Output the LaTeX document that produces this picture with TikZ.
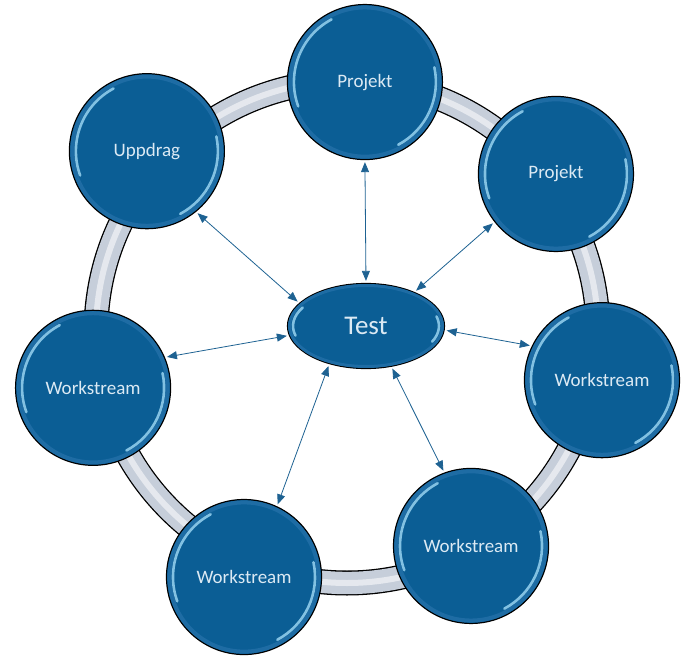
\documentclass[tikz,border=0pt]{standalone}
\usepackage{fontspec}
\setmainfont{Carlito}
\usetikzlibrary{
    positioning,           % Relative positioning
    shapes.geometric,      % Ellipse
    arrows.meta            % Modern arrow tips
}
\definecolor{bubbleblue}{RGB}{11,94,149}
\definecolor{rimblue}{RGB}{30,108,164}
\definecolor{glintblue}{RGB}{160,218,246}
\definecolor{bubbletext}{RGB}{220,234,244}
\definecolor{ringgray}{RGB}{198,206,218}
\definecolor{linkblue}{RGB}{30,98,146}
\tikzset{
    bubble/.style={circle, draw=black, line width=1.2pt, fill=bubbleblue,
        text=bubbletext, minimum size=155pt, inner sep=0pt,
        font=\fontsize{19}{19}\selectfont},
    hub/.style={ellipse, draw=black, line width=1.2pt, fill=bubbleblue,
        text=bubbletext, minimum width=157pt, minimum height=85pt, inner sep=0pt,
        font=\fontsize{27}{27}\selectfont},
    rim/.style={draw=rimblue, line width=4pt},
    glint/.style={draw=glintblue, line width=2.6pt, line cap=round, opacity=0.8},
    link/.style={linkblue, line width=0.8pt,
        {Triangle[length=10pt,width=8pt]}-{Triangle[length=10pt,width=8pt]},
        shorten >=2pt, shorten <=2pt}
}

\begin{document}
\begin{tikzpicture}[x=1pt,y=1pt]
    \useasboundingbox (-347,-326) rectangle (335,332);
    % ring behind the bubbles
    \draw[line width=25pt, black] (0,0) circle(251);
    \draw[line width=22.4pt, ringgray] (0,0) circle(251);
    \draw[line width=6pt, white, opacity=0.55] (0,0) circle(251);
    % bubbles
    \node[bubble] (p1) at (85.9:250.6) {};
    \node[bubble] (p2) at (37.1:262) {};
    \node[bubble] (w1) at (-10.7:259.5) {};
    \node[bubble] (w2) at (-59.9:247.3) {};
    \node[bubble] (w3) at (247.2:265.8) {};
    \node[bubble] (w4) at (192.4:260) {};
    \node[bubble] (up) at (137.9:269.7) {};
    \node[hub] (test) at (19,6) {};
    % rim and glints
    \foreach \n in {p1,p2,w1,w2,w3,w4,up} {
        \draw[rim] (\n.center) circle(74.6);
        \draw[glint] ([shift={(118:71)}]\n.center) arc[start angle=118, end angle=200, radius=71];
        \draw[glint] ([shift={(-62:71)}]\n.center) arc[start angle=-62, end angle=12, radius=71];
    }
    \draw[rim, line width=3pt] (test.center) ellipse[x radius=76.5, y radius=40.5];
    \draw[glint] ([shift={(150:73 and 37)}]test.center) arc[start angle=150, end angle=195, x radius=73, y radius=37];
    \draw[glint] ([shift={(-25:73 and 37)}]test.center) arc[start angle=-25, end angle=15, x radius=73, y radius=37];
    % labels
    \node[text=bubbletext, font=\fontsize{19}{19}\selectfont] at (p1) {Projekt};
    \node[text=bubbletext, font=\fontsize{19}{19}\selectfont] at (p2) {Projekt};
    \node[text=bubbletext, font=\fontsize{19}{19}\selectfont] at (w1) {Workstream};
    \node[text=bubbletext, font=\fontsize{19}{19}\selectfont] at (w2) {Workstream};
    \node[text=bubbletext, font=\fontsize{19}{19}\selectfont] at (w3) {Workstream};
    \node[text=bubbletext, font=\fontsize{19}{19}\selectfont] at (w4) {Workstream};
    \node[text=bubbletext, font=\fontsize{19}{19}\selectfont] at (up) {Uppdrag};
    \node[text=bubbletext, font=\fontsize{27}{27}\selectfont] at (test) {Test};
    % links
    \draw[link] (test.90) -- (p1.270);
    \draw[link] (test.35) -- (p2.218);
    \draw[link] (test.357) -- (w1.154);
    \draw[link] (test.302) -- (w2.110);
    \draw[link] (test.226) -- (w3.65);
    \draw[link] (test.187) -- (w4.23);
    \draw[link] (test.161) -- (up.309);
\end{tikzpicture}
\end{document}
